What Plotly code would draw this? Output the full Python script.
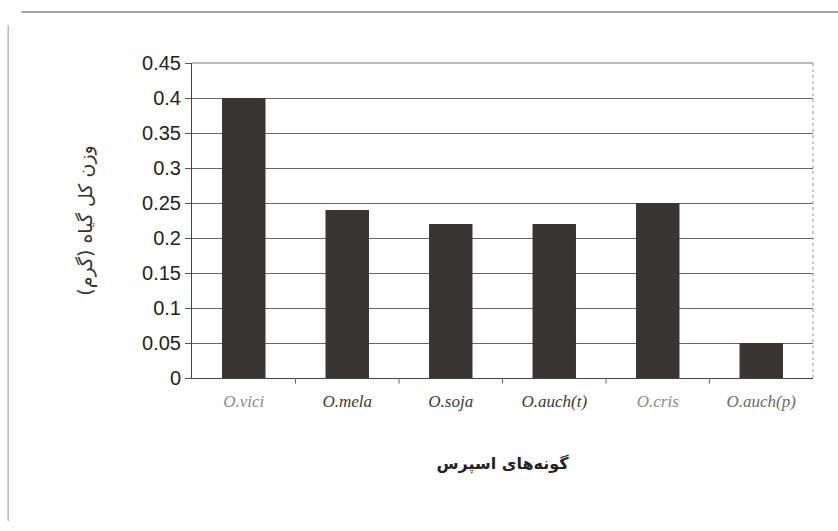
import plotly.graph_objects as go

# Species of sainfoin (Onobrychis) and total plant weight in grams
species = ["O.vici", "O.mela", "O.soja", "O.auch(t)", "O.cris", "O.auch(p)"]
total_weight = [0.40, 0.24, 0.22, 0.22, 0.25, 0.05]
label_colors = ["#8a8a8a", "#3a3a3a", "#3a3a3a", "#3a3a3a", "#8a8a8a", "#6a6a6a"]

y_ticks = [0, 0.05, 0.1, 0.15, 0.2, 0.25, 0.3, 0.35, 0.4, 0.45]
y_tick_text = ["0", "0.05", "0.1", "0.15", "0.2", "0.25", "0.3", "0.35", "0.4", "0.45"]

y_title = "وزن کل گیاه (گرم)"
x_title = "گونه‌های اسپرس"

tick_text = [f'<span style="color:{c}">{s}</span>' for s, c in zip(species, label_colors)]

fig = go.Figure(
    go.Bar(
        x=species,
        y=total_weight,
        marker=dict(color="#3a3535", line=dict(width=0)),
        width=0.42,
    )
)

fig.update_layout(
    width=838,
    height=531,
    margin=dict(l=192, r=25, t=63, b=153),
    paper_bgcolor="white",
    plot_bgcolor="white",
    showlegend=False,
    bargap=0.58,
)

fig.update_yaxes(
    range=[0, 0.45],
    tickvals=y_ticks,
    ticktext=y_tick_text,
    tickfont=dict(family="Liberation Sans", size=20, color="#222222"),
    ticks="outside",
    ticklen=6,
    tickcolor="#555555",
    showgrid=True,
    gridcolor="#666666",
    gridwidth=1,
    showline=True,
    linecolor="#444444",
    linewidth=1,
    mirror=False,
    zeroline=False,
    title=dict(text=y_title, font=dict(family="DejaVu Sans", size=19, color="#333333"), standoff=44),
)

fig.update_xaxes(
    tickvals=species,
    ticktext=tick_text,
    tickfont=dict(family="Liberation Serif", size=17, style="italic", weight="normal"),
    ticks="",
    ticklabelstandoff=8,
    showline=True,
    linecolor="#444444",
    linewidth=1,
    showgrid=False,
    range=[-0.5, 5.5],
    title=dict(text=f"<b>{x_title}</b>", font=dict(family="DejaVu Sans", size=16, color="#222222"), standoff=47),
)

# category separators drawn as small ticks below the x-axis
for k in range(1, 6):
    fig.add_shape(type="line", xref="x", yref="paper", x0=k - 0.5, x1=k - 0.5, y0=0, y1=-0.018,
                  line=dict(color="#666666", width=1))

# plot-area border (top and right)
fig.add_shape(type="line", xref="paper", yref="paper", x0=0, x1=1, y0=1, y1=1,
              line=dict(color="#777777", width=1))
fig.add_shape(type="line", xref="paper", yref="paper", x0=1, x1=1, y0=0, y1=1,
              line=dict(color="#999999", width=1, dash="dot"))

# outer chart frame
fig.add_shape(type="line", xref="paper", yref="paper", x0=-0.275, x1=1.05, y0=1.162, y1=1.162,
              line=dict(color="#8a8a8a", width=1.5))
fig.add_shape(type="line", xref="paper", yref="paper", x0=-0.296, x1=-0.296, y0=1.12, y1=-0.454,
              line=dict(color="#b5b5b5", width=1.5))

fig.write_html("out.html")
